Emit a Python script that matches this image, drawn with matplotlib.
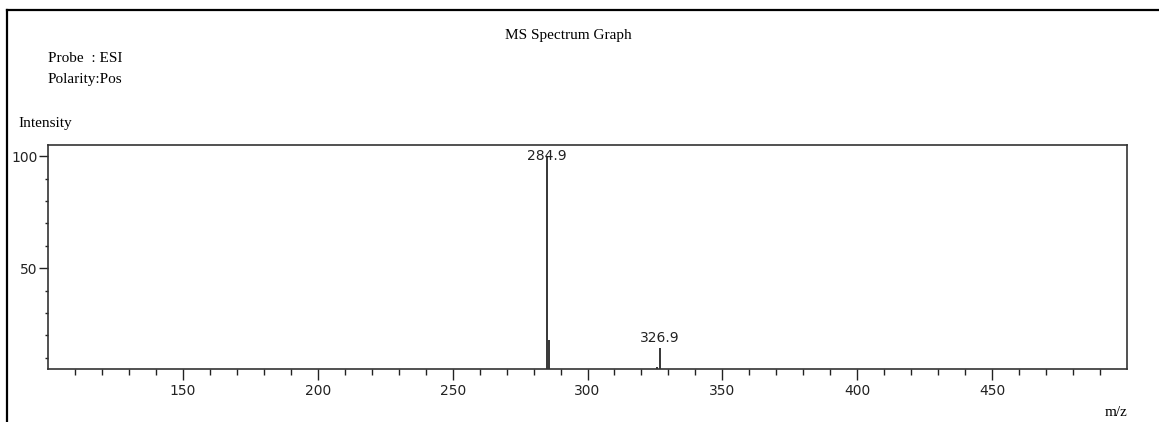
import matplotlib
matplotlib.use("Agg")
import matplotlib.pyplot as plt
from matplotlib.lines import Line2D
from matplotlib.ticker import MultipleLocator

# peak list
mz = [284.9, 285.9, 325.9, 326.9]
intensity = [100, 18, 6, 14.5]
labelled = [284.9, 326.9]

x_major = [150, 200, 250, 300, 350, 400, 450]
x_minor = [v for v in range(110, 500, 10) if v not in x_major]

serif = "Liberation Serif"
sans = "DejaVu Sans"

fig = plt.figure(figsize=(11.59, 4.22), dpi=100)
ax = fig.add_axes([48 / 1159, 1 - 369 / 422, (1127 - 48) / 1159, (369 - 145) / 422])

# outer frame (left and top only)
fig.add_artist(Line2D([7 / 1159, 7 / 1159], [0, 1 - 10 / 422], color="black", lw=1.6))
fig.add_artist(Line2D([7 / 1159, 1], [1 - 10 / 422, 1 - 10 / 422], color="black", lw=1.6))

ax.vlines(mz, 0, intensity, color="black", lw=1.1)

ax.set_xlim(100, 500)
ax.set_ylim(5, 105)
ax.set_xticks(x_major)
ax.set_xticks(x_minor, minor=True)
ax.set_yticks([50, 100])
ax.yaxis.set_minor_locator(MultipleLocator(10))

for s in ax.spines.values():
    s.set_linewidth(1.2)
    s.set_color("#333333")

ax.tick_params(axis="x", which="major", length=8, width=1, color="#222222", pad=3, labelsize=10)
ax.tick_params(axis="x", which="minor", length=4, width=1, color="#222222")
ax.tick_params(axis="y", which="major", length=6.5, width=1, color="#222222", pad=1, labelsize=10)
ax.tick_params(axis="y", which="minor", length=2.5, width=1, color="#222222")
for lab in ax.get_xticklabels() + ax.get_yticklabels():
    lab.set_fontfamily(sans)
    lab.set_color("#222222")

for m, i in zip(mz, intensity):
    if m in labelled:
        if i >= 100:
            ax.text(m, 100, f"{m:.1f}", ha="center", va="center", fontsize=10, family=sans, color="#222222")
        else:
            ax.annotate(f"{m:.1f}", (m, i), xytext=(0, 2), textcoords="offset points",
                        ha="center", va="bottom", fontsize=10, family=sans, color="#222222")

fig.text(568 / 1159, 1 - 36 / 422, "MS Spectrum Graph", ha="center", va="center", fontsize=11, family=serif)
fig.text(48 / 1159, 1 - 58 / 422, "Probe  : ESI", ha="left", va="center", fontsize=11, family=serif)
fig.text(48 / 1159, 1 - 80 / 422, "Polarity:Pos", ha="left", va="center", fontsize=11, family=serif)
fig.text(18 / 1159, 1 - 124 / 422, "Intensity", ha="left", va="center", fontsize=11, family=serif)
fig.text(1127 / 1159, 1 - 412 / 422, "m/z", ha="right", va="center", fontsize=11, family=serif)

fig.savefig("out.png", dpi=100)
